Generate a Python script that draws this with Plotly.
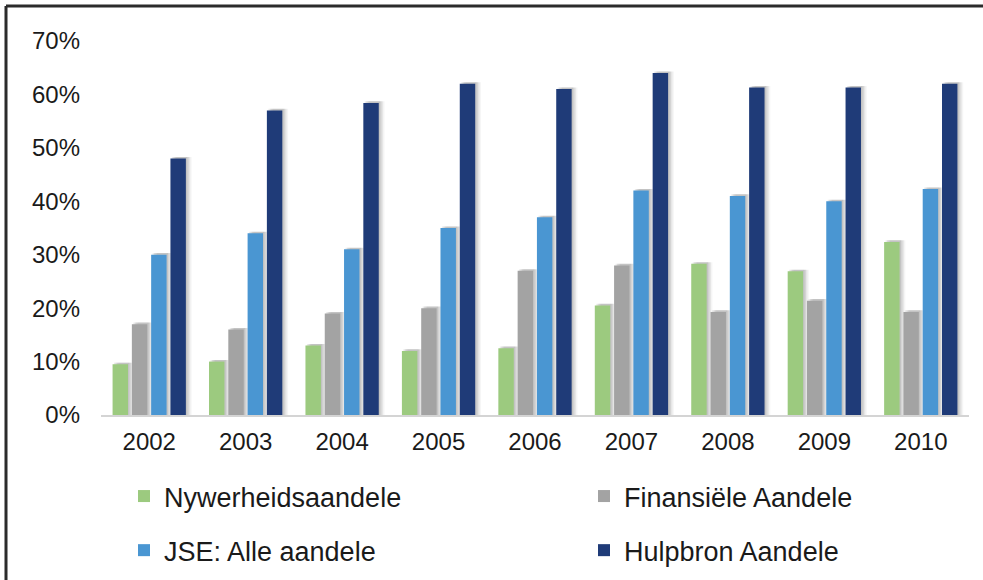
import plotly.graph_objects as go

years = ["2002", "2003", "2004", "2005", "2006", "2007", "2008", "2009", "2010"]
nywerheid = [9.5, 10, 13, 12, 12.5, 20.5, 28.3, 26.9, 32.4]
finansieel = [17, 16, 19, 20, 27, 28, 19.3, 21.4, 19.3]
jse = [30, 34, 31, 35, 37, 42, 41, 40, 42.3]
hulpbron = [48, 57, 58.4, 62, 61, 64, 61.3, 61.3, 62]

series_names = ["Nywerheidsaandele", "Finansiële Aandele", "JSE: Alle aandele", "Hulpbron Aandele"]
series_values = [nywerheid, finansieel, jse, hulpbron]
colors = ["#9cca7f", "#a3a3a3", "#4a96d2", "#1f3b78"]
legends = ["legend", "legend2", "legend", "legend2"]

W, H = 983, 580
ML, MR, MT, MB = 101, 14, 41, 165
PW = W - ML - MR
PH = H - MT - MB

bw = 0.16
slot = 0.2
start = -(3 * slot + bw) / 2

fig = go.Figure()

# soft shadows behind bars
for i, vals in enumerate(series_values):
    for dx, alpha in [(0.06, 0.04), (0.045, 0.06), (0.03, 0.08), (0.015, 0.08)]:
        fig.add_trace(go.Bar(
            x=years, y=[v + 0.3 for v in vals], width=bw, offset=start + i * slot + dx,
            marker=dict(color=f"rgba(0,0,0,{alpha})", line=dict(width=0)),
            showlegend=False, hoverinfo="skip",
        ))

for i, (name, vals) in enumerate(zip(series_names, series_values)):
    fig.add_trace(go.Bar(
        x=years, y=vals, name=name, width=bw, offset=start + i * slot,
        marker=dict(color=colors[i], line=dict(width=0)),
        legend=legends[i], legendgroup=name,
    ))

font_family = "Liberation Sans, Arial, sans-serif"
legend_top = 472

fig.update_layout(
    width=W, height=H,
    margin=dict(l=ML, r=MR, t=MT, b=MB, autoexpand=False),
    paper_bgcolor="white", plot_bgcolor="white",
    barmode="overlay",
    font=dict(family=font_family, color="#1a1a1a", size=24),
    xaxis=dict(
        type="category", showgrid=False, showline=True, linecolor="#d4d4d4", linewidth=2,
        ticks="", tickfont=dict(size=24, color="#1a1a1a"), ticklabelstandoff=4,
        range=[-0.5, 8.5],
    ),
    yaxis=dict(
        range=[0, 70], dtick=10, ticksuffix="%", showgrid=False, zeroline=False,
        showline=False, ticks="", tickfont=dict(size=24, color="#1a1a1a"),
        ticklabelstandoff=20,
    ),
    legend=dict(
        x=(124 - ML) / PW, xanchor="left", y=(MT + PH - legend_top) / PH, yanchor="top",
        orientation="v", font=dict(size=27, color="#1a1a1a"), tracegroupgap=16,
        bgcolor="rgba(0,0,0,0)", itemclick=False,
    ),
    legend2=dict(
        x=(584 - ML) / PW, xanchor="left", y=(MT + PH - legend_top) / PH, yanchor="top",
        orientation="v", font=dict(size=27, color="#1a1a1a"), tracegroupgap=16,
        bgcolor="rgba(0,0,0,0)", itemclick=False,
    ),
    shapes=[
        dict(type="line", xref="paper", yref="paper",
             x0=(6 - ML) / PW, x1=(W + 5 - ML) / PW,
             y0=(MT + PH - 6) / PH, y1=(MT + PH - 6) / PH,
             line=dict(color="#2b2b2b", width=3)),
        dict(type="line", xref="paper", yref="paper",
             x0=(6 - ML) / PW, x1=(6 - ML) / PW,
             y0=(MT + PH - 6) / PH, y1=(MT + PH - H - 5) / PH,
             line=dict(color="#2b2b2b", width=3)),
    ],
)

fig.write_html(
    "out.html",
    config={"displayModeBar": False},
    post_script="document.body.style.margin='0';document.body.style.overflow='hidden';",
)
